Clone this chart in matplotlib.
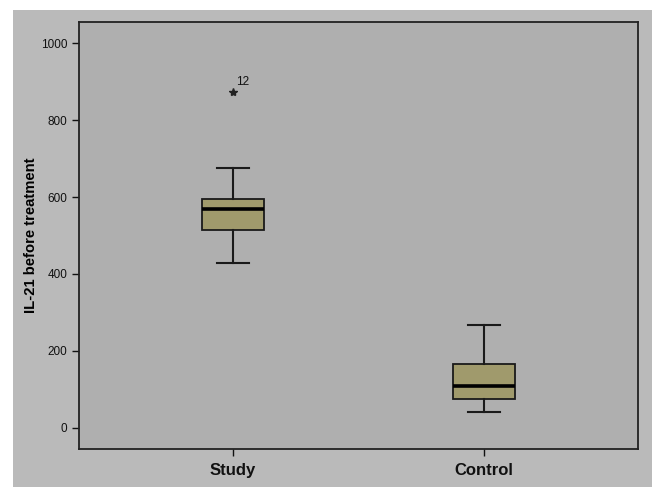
import matplotlib.pyplot as plt
from matplotlib.patches import Rectangle

# group names and box summary values
groups = ['Study', 'Control']
q1 = [514, 75]
median = [569, 109]
q3 = [594, 167]
whisker_low = [429, 42]
whisker_high = [676, 267]
outliers = [[872], []]
outlier_labels = [['12'], []]

yticks = [0, 200, 400, 600, 800, 1000]

plt.rcParams['font.family'] = ['Liberation Sans', 'DejaVu Sans']

W, H = 652, 487
fig = plt.figure(figsize=(W / 100, H / 100), dpi=100)
fig.patch.set_facecolor('white')

# grey panel behind the chart (white strip on top and left)
fig.patches.append(Rectangle((13 / W, 0), 1, 1 - 10 / H, transform=fig.transFigure,
                             facecolor='#bababa', edgecolor='none', zorder=0))

ax = fig.add_axes([79 / W, 1 - 449 / H, (638 - 79) / W, (449 - 22) / H])
ax.set_zorder(2)
ax.set_facecolor('#afafaf')

stats = []
for i in range(len(groups)):
    stats.append({'med': median[i], 'q1': q1[i], 'q3': q3[i],
                  'whislo': whisker_low[i], 'whishi': whisker_high[i],
                  'fliers': outliers[i], 'label': groups[i]})

positions = [1, 2]
ax.bxp(stats, positions=positions, widths=0.25, patch_artist=True,
       showfliers=True,
       boxprops=dict(facecolor='#a09a6c', edgecolor='#1a1a1a', linewidth=1.3),
       medianprops=dict(color='black', linewidth=2.6),
       whiskerprops=dict(color='#1a1a1a', linewidth=1.5),
       capprops=dict(color='#1a1a1a', linewidth=1.5),
       capwidths=0.13,
       flierprops=dict(marker='*', markersize=6, markerfacecolor='#222222',
                       markeredgecolor='#222222', linestyle='none'))

for i, pos in enumerate(positions):
    for val, lab in zip(outliers[i], outlier_labels[i]):
        ax.annotate(lab, (pos, val), xytext=(2, 5), textcoords='offset points',
                    fontsize=8.5, color='#111111')

ax.set_xlim(0.386, 2.614)
ax.set_ylim(-55, 1055)
ax.set_yticks(yticks)
ax.set_xticks(positions)
ax.set_xticklabels(groups, fontsize=12, fontweight='bold')
ax.tick_params(axis='y', labelsize=8.5, length=5, width=1, colors='#111111')
ax.tick_params(axis='x', length=5, width=1, pad=5, colors='#111111')
ax.set_ylabel('IL-21 before treatment', fontsize=10.7, fontweight='bold', labelpad=2)

for side in ax.spines.values():
    side.set_linewidth(1.3)
    side.set_color('#222222')

fig.savefig('out.png', dpi=100, facecolor=fig.get_facecolor())
